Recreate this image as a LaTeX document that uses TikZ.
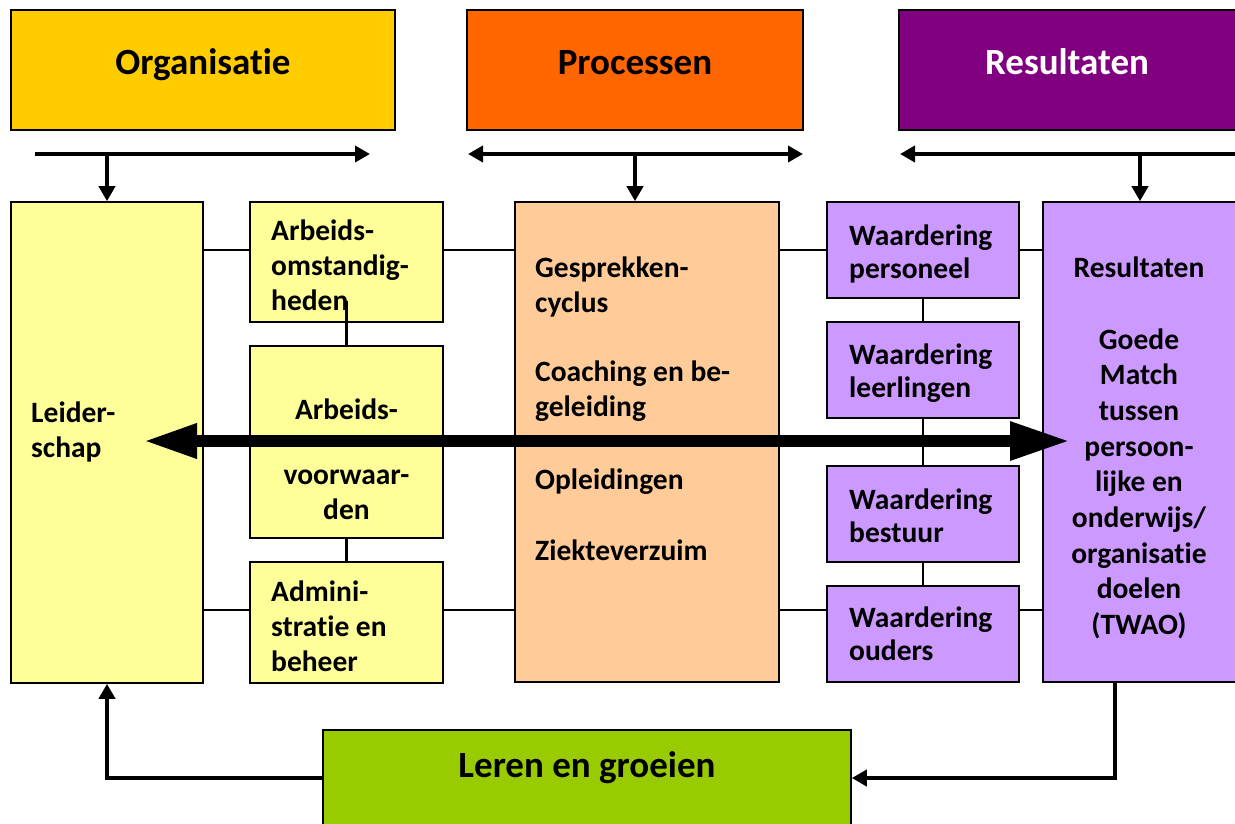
\documentclass[tikz,border=0pt]{standalone}
\usepackage{fontspec}
\setmainfont[Ligatures=NoCommon]{Carlito}
\usetikzlibrary{arrows.meta,calc}
\definecolor{corg}{HTML}{FFCC00}
\definecolor{cproc}{HTML}{FF6600}
\definecolor{cres}{HTML}{800080}
\definecolor{cyel}{HTML}{FFFF99}
\definecolor{cpeach}{HTML}{FFCC99}
\definecolor{cpurp}{HTML}{CC99FF}
\definecolor{cgreen}{HTML}{99CC00}
\begin{document}
\begin{tikzpicture}[x=1pt,y=-1pt,
  box/.style={draw=black, line width=1.6pt, inner sep=0pt},
  hdr/.style={font=\fontsize{37}{40}\selectfont\bfseries, inner sep=0pt, anchor=base},
  txt/.style={font=\fontsize{29.5}{35}\selectfont\bfseries, inner sep=0pt, align=left, anchor=base west},
  wtxt/.style={font=\fontsize{29.5}{33}\selectfont\bfseries, inner sep=0pt, align=left, anchor=base west},
  ctxt/.style={font=\fontsize{29.5}{35.7}\selectfont\bfseries, inner sep=0pt, align=center, anchor=base},
  conn/.style={draw=black, line width=2.1pt},
  flow/.style={draw=black, line width=3.8pt, -{Triangle[length=15pt,width=16pt]}},
  flowboth/.style={draw=black, line width=3.8pt, {Triangle[length=15pt,width=16pt]}-{Triangle[length=15pt,width=16pt]}},
  big/.style={draw=black, line width=12pt, {Triangle[length=54pt,width=32pt]}-{Triangle[length=60pt,width=36pt]}}
]
\useasboundingbox (0,0) rectangle (1235,823);

% header boxes
\node[box, fill=corg, minimum width=384, minimum height=120] (org) at (203,70) {};
\node[box, fill=cproc, minimum width=336, minimum height=120] (proc) at (635,70) {};
\node[box, fill=cres, minimum width=340, minimum height=120] (resh) at (1069,70) {};
\node[hdr] (org-t) at (203,74) {Organisatie};
\node[hdr] (proc-t) at (635,74) {Processen};
\node[hdr, text=white] (resh-t) at (1067,74) {Resultaten};

% column boxes
\node[box, fill=cyel, minimum width=192, minimum height=481] (lead) at (107,442.5) {};
\node[box, fill=cyel, minimum width=193, minimum height=120] (ao) at (346.5,262) {};
\node[box, fill=cyel, minimum width=193, minimum height=192] (av) at (346.5,442) {};
\node[box, fill=cyel, minimum width=193, minimum height=121] (ad) at (346.5,622.5) {};
\node[box, fill=cpeach, minimum width=264, minimum height=480] (pr) at (647,442) {};
\node[box, fill=cpurp, minimum width=192, minimum height=96] (wp) at (923,250) {};
\node[box, fill=cpurp, minimum width=192, minimum height=96] (wl) at (923,370) {};
\node[box, fill=cpurp, minimum width=192, minimum height=96] (wb) at (923,514) {};
\node[box, fill=cpurp, minimum width=192, minimum height=96] (wo) at (923,634) {};
\node[box, fill=cpurp, minimum width=194, minimum height=480] (res) at (1140,442) {};
\node[box, fill=cgreen, minimum width=528, minimum height=120] (leren) at (587,790) {};

% texts (anchor = baseline of the last line)
\node[txt] (lead-t) at (31,457) {Leider-\\schap};
\node[txt] (ao-t) at (271,310) {Arbeids-\\omstandig-\\heden};
\node[ctxt] (av-t1) at (346.5,419) {Arbeids-};
\node[txt, align=center, anchor=base] (av-t2) at (346.5,519) {voorwaar-\\den};
\node[txt] (ad-t) at (271,671) {Admini-\\stratie en\\beheer};
\node[txt] (pr-t1) at (535,312) {Gesprekken-\\cyclus};
\node[txt] (pr-t2) at (535,416) {Coaching en be-\\geleiding};
\node[txt] (pr-t3) at (535,489) {Opleidingen};
\node[txt] (pr-t4) at (535,560) {Ziekteverzuim};
\node[wtxt] (wp-t) at (849,278) {Waardering\\personeel};
\node[wtxt] (wl-t) at (849,397) {Waardering\\leerlingen};
\node[wtxt] (wb-t) at (849,542) {Waardering\\bestuur};
\node[wtxt] (wo-t) at (849,660) {Waardering\\ouders};
\node[ctxt] (res-t1) at (1139,277) {Resultaten};
\node[ctxt] (res-t2) at (1139,634.6) {Goede\\Match\\tussen\\persoon-\\lijke en\\onderwijs/\\organisatie\\doelen\\(TWAO)};
\node[hdr] (leren-t) at (587,777) {Leren en groeien};

% thin connectors
\coordinate (r1) at (0,250);
\coordinate (r2) at (0,610);
\draw[conn] (lead.east |- r1) -- (ao.west |- r1);
\draw[conn] (ao.east |- r1) -- (pr.west |- r1);
\draw[conn] (pr.east |- r1) -- (wp.west |- r1);
\draw[conn] (wp.east |- r1) -- (res.west |- r1);
\draw[conn] (lead.east |- r2) -- (ad.west |- r2);
\draw[conn] (ad.east |- r2) -- (pr.west |- r2);
\draw[conn] (pr.east |- r2) -- (wo.west |- r2);
\draw[conn] (wo.east |- r2) -- (res.west |- r2);
\draw[conn] ($(ao.south)+(0,-22)$) -- (av.north);
\draw[conn] (av.south) -- (ad.north);
\draw[conn] (wp.south) -- (wl.north);
\draw[conn] (wl.south) -- (wb.north);
\draw[conn] (wb.south) -- (wo.north);

% top arrows
\coordinate (t1a) at (35,154);
\coordinate (t1b) at (370,154);
\coordinate (t2a) at (468,154);
\coordinate (t2b) at (803,154);
\coordinate (t3a) at (1240,154);
\coordinate (t3b) at (900,154);
\draw[flow] (t1a) -- (t1b);
\draw[flowboth] (t2a) -- (t2b);
\draw[flow] (t3a) -- (t3b);
\draw[flow] (lead.north |- t1a) -- (lead.north);
\draw[flow] (proc.center |- t2a) -- (proc.center |- pr.north);
\draw[flow] (res.north |- t3a) -- (res.north);

% big double arrow
\coordinate (bigL) at (143,441);
\coordinate (bigR) at (1070,441);
\draw[big] (bigL) -- (bigR);

% bottom feedback
\coordinate (fb) at (0,778);
\draw[flow] ($(res.south)+(-25,0)$) |- (leren.east |- fb);
\draw[flow] (leren.west |- fb) -| (lead.south);
\end{tikzpicture}
\end{document}
